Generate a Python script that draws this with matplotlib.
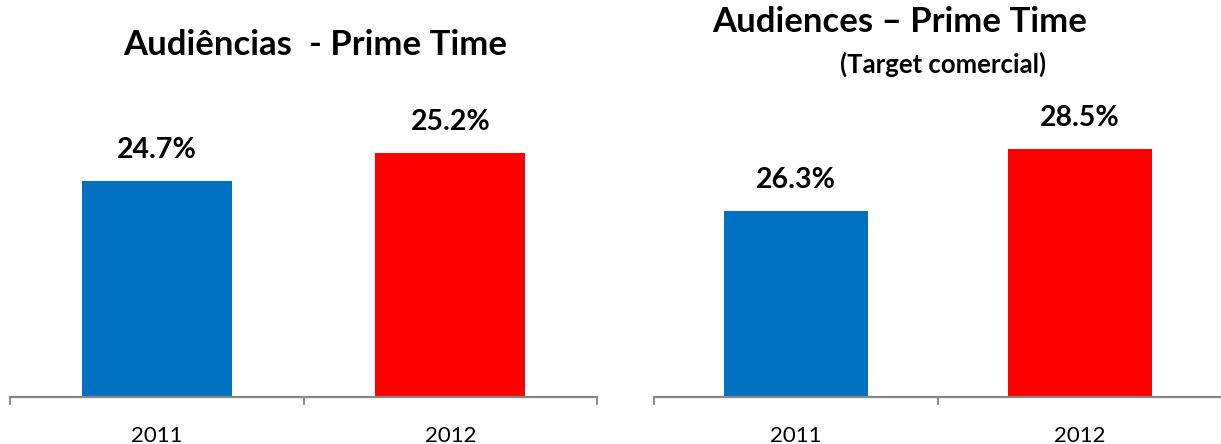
import matplotlib.pyplot as plt

# -------- DATA --------
years = ["2011", "2012"]
share_all = [24.7, 25.2]          # Audiências - Prime Time
share_target = [26.3, 28.5]       # Audiences - Prime Time (Target comercial)
bar_colors = ["#0070C0", "#FF0000"]

plt.rcParams["font.family"] = ["Lato", "DejaVu Sans"]

W, H = 1221, 444
fig = plt.figure(figsize=(W / 100, H / 100), dpi=100)


def px_axes(x0, x1, y_top, y_bot):
    return fig.add_axes([x0 / W, 1 - y_bot / H, (x1 - x0) / W, (y_bot - y_top) / H])


def draw_panel(ax, values, ylim):
    ax.bar(range(len(years)), values, width=0.51, color=bar_colors, zorder=1)
    ax.set_xlim(-0.5, len(years) - 0.5)
    ax.set_ylim(*ylim)
    for s in ["left", "right", "top"]:
        ax.spines[s].set_visible(False)
    ax.spines["bottom"].set_color("#868686")
    ax.spines["bottom"].set_linewidth(1.6)
    ax.spines["bottom"].set_zorder(3)
    ax.set_yticks([])
    # category boundaries as ticks
    ax.set_xticks([-0.5, 0.5, 1.5], minor=False)
    ax.set_xticklabels([])
    ax.tick_params(axis="x", direction="out", length=6, width=1.3, color="#868686")
    for i, (y, v) in enumerate(zip(years, values)):
        ax.text(i, -0.13, y, transform=ax.get_xaxis_transform(),
                ha="center", va="center", fontsize=16, color="black")
        ax.annotate(f"{v:.1f}%", (i, v), xytext=(0, 13), textcoords="offset points",
                    ha="center", va="bottom", fontsize=20.5, fontweight="bold")


# -------- LEFT PANEL --------
ax1 = px_axes(10, 597, 100, 397)
draw_panel(ax1, share_all, (20.84, 26.15))

# -------- RIGHT PANEL --------
ax2 = px_axes(654, 1222, 100, 397)
draw_panel(ax2, share_target, (19.7, 30.24))

fig.text(315 / W, 1 - 45 / H, "Audiências  - Prime Time", ha="center", va="center",
         fontsize=25, fontweight="bold")
fig.text(900 / W, 1 - 22 / H, "Audiences – Prime Time", ha="center", va="center",
         fontsize=25, fontweight="bold")
fig.text(943 / W, 1 - 64 / H, "(Target comercial)", ha="center", va="center",
         fontsize=18.5, fontweight="bold")

fig.savefig("out.png", dpi=100)
